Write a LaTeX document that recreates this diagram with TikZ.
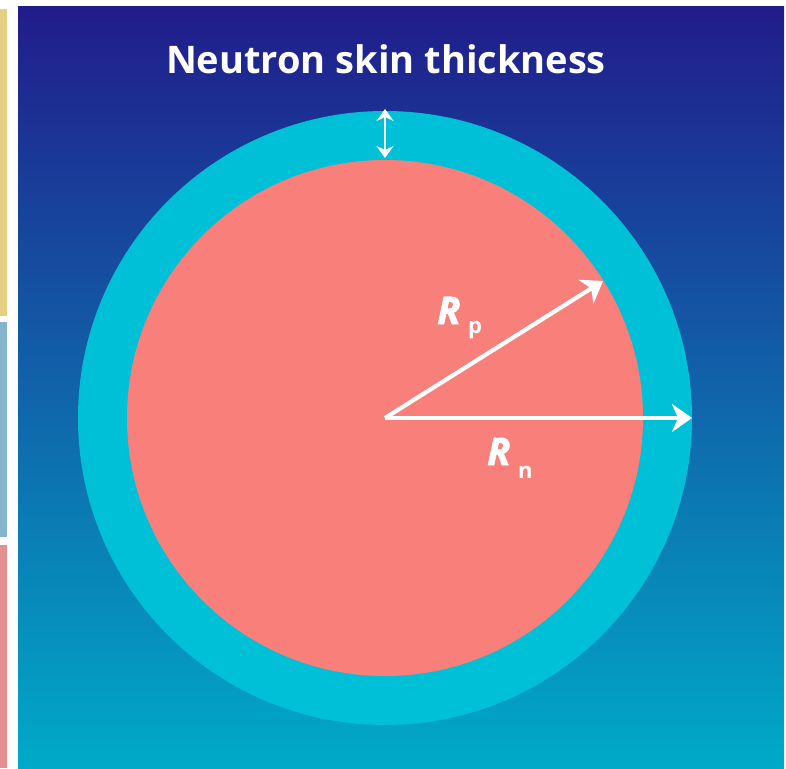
\documentclass[tikz,border=0pt]{standalone}
\usepackage{fontspec}
\setmainfont{Open Sans}
\newfontfamily\labelfont{Open Sans}[BoldItalicFeatures={FakeBold=2}]
\usetikzlibrary{arrows.meta}
\definecolor{bgtop}{RGB}{33,28,139}
\definecolor{bgmid}{RGB}{10,92,166}
\definecolor{bgbot}{RGB}{0,170,200}
\definecolor{ringcol}{RGB}{0,192,216}
\definecolor{corecol}{RGB}{249,128,122}
\definecolor{baryellow}{RGB}{229,207,133}
\definecolor{barblue}{RGB}{133,180,207}
\definecolor{barpink}{RGB}{229,144,144}
\tikzset{
  bigarrow/.style={white, line width=4.2pt, -{Stealth[length=20pt,width=28pt,inset=6pt]}},
  skinarrow/.style={white, line width=2.5pt, {Stealth[length=12pt,width=17pt,inset=4pt]}-{Stealth[length=12pt,width=17pt,inset=4pt]}},
  bigR/.style={text=white, inner sep=0pt, anchor=base west, font=\labelfont\bfseries\itshape\fontsize{38}{40}\selectfont},
  subR/.style={text=white, inner sep=0pt, anchor=base west, font=\bfseries\fontsize{22}{24}\selectfont},
}
\begin{document}
\begin{tikzpicture}[x=1pt,y=-1pt]
\useasboundingbox (0,0) rectangle (786,768);
\fill[white] (0,0) rectangle (786,768);
\fill[baryellow] (0,9) rectangle (7,316);
\fill[barblue] (0,322) rectangle (7,537);
\fill[barpink] (0,545) rectangle (7,768);
\shade[top color=bgtop, middle color=bgmid, bottom color=bgbot] (18,7) rectangle (784,768);
\coordinate (c) at (385,418);
\fill[ringcol] (c) circle[radius=307pt];
\fill[corecol] (c) circle[radius=258pt];
\node[text=white, inner sep=0pt, anchor=base, font=\bfseries\fontsize{38}{40}\selectfont] (title) at (386,73) {Neutron skin thickness};
\coordinate (skintop) at (385,109);
\coordinate (skinbot) at (385,158);
\draw[skinarrow] (skintop) -- (skinbot);
\coordinate (ptip) at (603,281);
\coordinate (ntip) at (692,418);
\draw[bigarrow] (c) -- (ptip);
\draw[bigarrow] (c) -- (ntip);
\node[bigR] (Rp) at (437,324) {R};
\node[subR] (Rpsub) at (468,333) {p};
\node[bigR] (Rn) at (487,465) {R};
\node[subR] (Rnsub) at (518,478) {n};
\end{tikzpicture}
\end{document}
